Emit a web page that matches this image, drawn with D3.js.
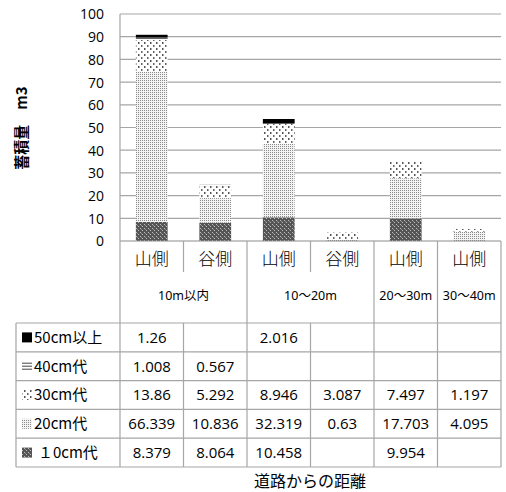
<!DOCTYPE html>
<html>
<head>
<meta charset="utf-8">
<script src="https://cdn.jsdelivr.net/npm/d3@7"></script>
<style>
  body { margin: 0; background: #fff; }
  text { font-family: "Noto Sans CJK JP", "Noto Sans", sans-serif; fill: #000; }
</style>
</head>
<body>
<div id="chart"></div>
<script>
// chart data
const categories = ["山側", "谷側", "山側", "谷側", "山側", "山側"];
const groups = ["10m以内", "10〜20m", "20〜30m", "30〜40m"];
const groupSpan = [2, 2, 1, 1];
const seriesNames = ["50cm以上", "40cm代", "30cm代", "20cm代", "１0cm代"];
const s50 = [1.26, null, 2.016, null, null, null];
const s40 = [1.008, 0.567, null, null, null, null];
const s30 = [13.86, 5.292, 8.946, 3.087, 7.497, 1.197];
const s20 = [66.339, 10.836, 32.319, 0.63, 17.703, 4.095];
const s10 = [8.379, 8.064, 10.458, null, 9.954, null];
const yTicks = [0, 10, 20, 30, 40, 50, 60, 70, 80, 90, 100];

const seriesVals = [s50, s40, s30, s20, s10]; // table order (top to bottom)
const stackOrder = [4, 3, 2, 1, 0];           // bottom to top in bars
const fills = ["#000", "url(#p40)", "url(#p30)", "url(#p20)", "url(#p10)"];

const W = 506, H = 492;
const plot = {left: 120, right: 501, top: 14, bottom: 241};
const tableLeft = 16, rowTop = 323, rowBottom = 467;

const svg = d3.select("#chart").append("svg")
  .attr("width", W).attr("height", H);

// patterns
const defs = svg.append("defs");
const p10 = defs.append("pattern").attr("id", "p10").attr("patternUnits", "userSpaceOnUse")
  .attr("width", 4).attr("height", 4);
p10.append("rect").attr("width", 4).attr("height", 4).attr("fill", "#555");
p10.append("rect").attr("x", 0).attr("y", 0).attr("width", 1).attr("height", 1).attr("fill", "#bbb");
p10.append("rect").attr("x", 2).attr("y", 2).attr("width", 1).attr("height", 1).attr("fill", "#bbb");
p10.append("rect").attr("x", 1).attr("y", 1).attr("width", 1).attr("height", 1).attr("fill", "#888");

const p20 = defs.append("pattern").attr("id", "p20").attr("patternUnits", "userSpaceOnUse")
  .attr("width", 2).attr("height", 2);
p20.append("rect").attr("width", 2).attr("height", 2).attr("fill", "#f4f4f4");
p20.append("rect").attr("x", 0).attr("y", 0).attr("width", 1).attr("height", 1).attr("fill", "#8a8a8a");

const p30 = defs.append("pattern").attr("id", "p30").attr("patternUnits", "userSpaceOnUse")
  .attr("width", 6).attr("height", 6);
p30.append("rect").attr("width", 6).attr("height", 6).attr("fill", "#fff");
p30.append("rect").attr("x", 0).attr("y", 0).attr("width", 1.5).attr("height", 2).attr("fill", "#555");
p30.append("rect").attr("x", 3).attr("y", 3).attr("width", 1.5).attr("height", 2).attr("fill", "#666");

const p40 = defs.append("pattern").attr("id", "p40").attr("patternUnits", "userSpaceOnUse")
  .attr("width", 4).attr("height", 2);
p40.append("rect").attr("width", 4).attr("height", 2).attr("fill", "#fff");
p40.append("rect").attr("y", 0).attr("width", 4).attr("height", 1).attr("fill", "#666");

// scales
const idx = d3.range(categories.length);
const x = d3.scaleBand().domain(idx).range([plot.left, plot.right])
  .paddingInner(0.5).paddingOuter(0.25);
const y = d3.scaleLinear().domain([0, 100]).range([plot.bottom, plot.top]);
const row = d3.scaleBand().domain(d3.range(seriesNames.length)).range([rowTop, rowBottom]);
const step = x.step();

// gridlines and y axis labels
const yAxis = d3.axisLeft(y).tickValues(yTicks).tickSize(0).tickPadding(0);
const gy = svg.append("g").attr("transform", `translate(${plot.left - 16},0)`).call(yAxis);
gy.select(".domain").remove();
gy.selectAll("text").style("font-family", "'Open Sans', 'Noto Sans', sans-serif")
  .style("font-size", "14px").attr("fill", "#111").attr("dy", "0.35em");

svg.append("g").selectAll("line").data(yTicks.filter(d => d > 0)).join("line")
  .attr("x1", plot.left).attr("x2", plot.right)
  .attr("y1", d => y(d)).attr("y2", d => y(d))
  .attr("stroke", "#a6a6a6").attr("stroke-width", 1.2);

// stacked bars
const bars = svg.append("g");
idx.forEach(i => {
  let base = 0;
  stackOrder.forEach(s => {
    const v = seriesVals[s][i];
    if (!v) return;
    bars.append("rect")
      .attr("x", x(i)).attr("width", x.bandwidth())
      .attr("y", y(base + v)).attr("height", y(base) - y(base + v))
      .attr("fill", fills[s]);
    base += v;
  });
});

// table grid
const grid = svg.append("g").attr("stroke", "#a6a6a6").attr("stroke-width", 1.2).attr("fill", "none");
grid.append("line").attr("x1", plot.left).attr("x2", plot.right)
  .attr("y1", plot.bottom).attr("y2", plot.bottom).attr("stroke", "#8c8c8c");
grid.append("line").attr("x1", plot.left).attr("x2", plot.left).attr("y1", plot.top).attr("y2", rowBottom);
let acc = 0;
const groupEdges = [0];
groupSpan.forEach(n => { acc += n; groupEdges.push(acc); });
groupEdges.slice(1).forEach(g => {
  const gx = plot.left + g * step;
  grid.append("line").attr("x1", gx).attr("x2", gx).attr("y1", plot.bottom).attr("y2", rowBottom);
});
idx.slice(1).forEach(i => {
  if (groupEdges.includes(i)) return;
  const gx = plot.left + i * step;
  grid.append("line").attr("x1", gx).attr("x2", gx).attr("y1", plot.bottom).attr("y2", 272);
  grid.append("line").attr("x1", gx).attr("x2", gx).attr("y1", rowTop).attr("y2", rowBottom);
});
grid.append("line").attr("x1", tableLeft).attr("x2", tableLeft).attr("y1", rowTop).attr("y2", rowBottom);
d3.range(seriesNames.length + 1).forEach(r => {
  const ry = rowTop + r * row.step();
  grid.append("line").attr("x1", tableLeft).attr("x2", plot.right).attr("y1", ry).attr("y2", ry);
});

// category labels
svg.append("g").selectAll("text").data(idx).join("text")
  .attr("x", i => x(i) + x.bandwidth() / 2).attr("y", 265)
  .attr("text-anchor", "middle").style("font-size", "17px").style("font-weight", 300)
  .text(i => categories[i]);

// group labels
svg.append("g").selectAll("text").data(groups).join("text")
  .attr("x", (d, g) => plot.left + (groupEdges[g] + groupEdges[g + 1]) / 2 * step)
  .attr("y", 300).attr("text-anchor", "middle")
  .style("font-size", "12.5px").style("font-family", "'Noto Sans', 'Noto Sans CJK JP', sans-serif")
  .text(d => d);

// legend cells
const leg = svg.append("g");
seriesNames.forEach((name, r) => {
  const cy = row(r) + row.bandwidth() / 2;
  const sx = 22;
  if (r === 0) {
    leg.append("rect").attr("x", sx).attr("y", cy - 5).attr("width", 10).attr("height", 10).attr("fill", "#000");
  } else if (r === 1) {
    [-3, 0, 3].forEach(o => leg.append("line").attr("x1", sx).attr("x2", sx + 10)
      .attr("y1", cy + o).attr("y2", cy + o).attr("stroke", "#444").attr("stroke-width", 1));
  } else {
    leg.append("rect").attr("x", sx).attr("y", cy - 5).attr("width", 10).attr("height", 10).attr("fill", fills[r]);
  }
  leg.append("text").attr("x", r === 4 ? 38 : 34).attr("y", cy).attr("dy", "0.36em")
    .style("font-size", "15px").text(name);
});

// value cells
const cells = svg.append("g");
seriesVals.forEach((vals, r) => {
  vals.forEach((v, i) => {
    if (v == null) return;
    cells.append("text")
      .attr("x", plot.left + (i + 0.5) * step).attr("y", row(r) + row.bandwidth() / 2)
      .attr("dy", "0.36em").attr("text-anchor", "middle")
      .style("font-family", "'Open Sans', 'Noto Sans', sans-serif").style("font-size", "15px")
      .text(v);
  });
});

// axis titles
svg.append("text").attr("transform", "translate(27,128) rotate(-90)")
  .attr("text-anchor", "middle").style("font-size", "15px").style("font-weight", "bold")
  .text("蓄積量　m3");
svg.append("text").attr("x", 310).attr("y", 487).attr("text-anchor", "middle")
  .style("font-size", "16px").text("道路からの距離");
</script>
</body>
</html>
